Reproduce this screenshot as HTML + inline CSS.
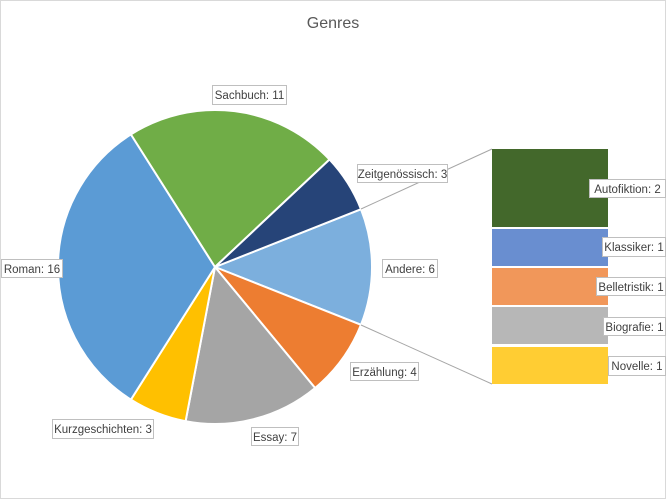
<!DOCTYPE html>
<html><head><meta charset="utf-8"><style>
body{margin:0;background:#fff}
svg{display:block}
text{font-family:"Liberation Sans",sans-serif;font-size:11.5px;fill:#404040}
.b{fill:#fff;stroke:#bfbfbf;stroke-width:1}
</style></head><body>
<svg width="666" height="499" viewBox="0 0 666 499">
<rect x="0.5" y="0.5" width="665" height="498" fill="#fff" stroke="#d9d9d9"/>
<text x="333" y="28" text-anchor="middle" style="font-size:16px;fill:#595959">Genres</text>
<g stroke="#fff" stroke-width="2" stroke-linejoin="round">
<path d="M215,267 L361,209.2 A157,157 0 0 1 361,324.8Z" fill="#7cafdd"/>
<path d="M215,267 L361,324.8 A157,157 0 0 1 315.1,388Z" fill="#ed7d31"/>
<path d="M215,267 L315.1,388 A157,157 0 0 1 185.6,421.2Z" fill="#a5a5a5"/>
<path d="M215,267 L185.6,421.2 A157,157 0 0 1 130.9,399.6Z" fill="#ffc000"/>
<path d="M215,267 L130.9,399.6 A157,157 0 0 1 130.9,134.4Z" fill="#5b9bd5"/>
<path d="M215,267 L130.9,134.4 A157,157 0 0 1 329.5,159.5Z" fill="#70ad47"/>
<path d="M215,267 L329.5,159.5 A157,157 0 0 1 361,209.2Z" fill="#264478"/>
</g>
<line x1="361" y1="209" x2="492" y2="149" stroke="#a6a6a6"/>
<line x1="361" y1="325" x2="492" y2="384" stroke="#a6a6a6"/>
<rect x="492" y="149" width="116" height="78" fill="#43682b"/>
<rect x="492" y="229" width="116" height="37" fill="#698ed0"/>
<rect x="492" y="268" width="116" height="37" fill="#f1975a"/>
<rect x="492" y="307" width="116" height="37" fill="#b7b7b7"/>
<rect x="492" y="347" width="116" height="37" fill="#ffcd33"/>
<g>
<rect class="b" x="212.5" y="85.5" width="74" height="19"/><text x="249.5" y="99" text-anchor="middle">Sachbuch: 11</text>
<rect class="b" x="357.5" y="164.5" width="90" height="18"/><text x="402.5" y="178" text-anchor="middle">Zeitgenössisch: 3</text>
<rect class="b" x="382.5" y="259.5" width="55" height="18"/><text x="410" y="273" text-anchor="middle">Andere: 6</text>
<rect class="b" x="350.5" y="362.5" width="68" height="18"/><text x="384.5" y="376" text-anchor="middle">Erzählung: 4</text>
<rect class="b" x="251.5" y="427.5" width="47" height="18"/><text x="275" y="441" text-anchor="middle">Essay: 7</text>
<rect class="b" x="52.5" y="419.5" width="101" height="19"/><text x="103" y="433" text-anchor="middle">Kurzgeschichten: 3</text>
<rect class="b" x="1.5" y="259.5" width="61" height="18"/><text x="32" y="273" text-anchor="middle">Roman: 16</text>
<rect class="b" x="589.5" y="179.5" width="76" height="18"/><text x="627.5" y="193" text-anchor="middle">Autofiktion: 2</text>
<rect class="b" x="602.5" y="237.5" width="63" height="19"/><text x="634" y="251" text-anchor="middle">Klassiker: 1</text>
<rect class="b" x="596.5" y="277.5" width="69" height="18"/><text x="631" y="291" text-anchor="middle">Belletristik: 1</text>
<rect class="b" x="603.5" y="317.5" width="62" height="18"/><text x="634.5" y="331" text-anchor="middle">Biografie: 1</text>
<rect class="b" x="608.5" y="356.5" width="57" height="19"/><text x="637" y="370" text-anchor="middle">Novelle: 1</text>
</g>
</svg>
</body></html>
